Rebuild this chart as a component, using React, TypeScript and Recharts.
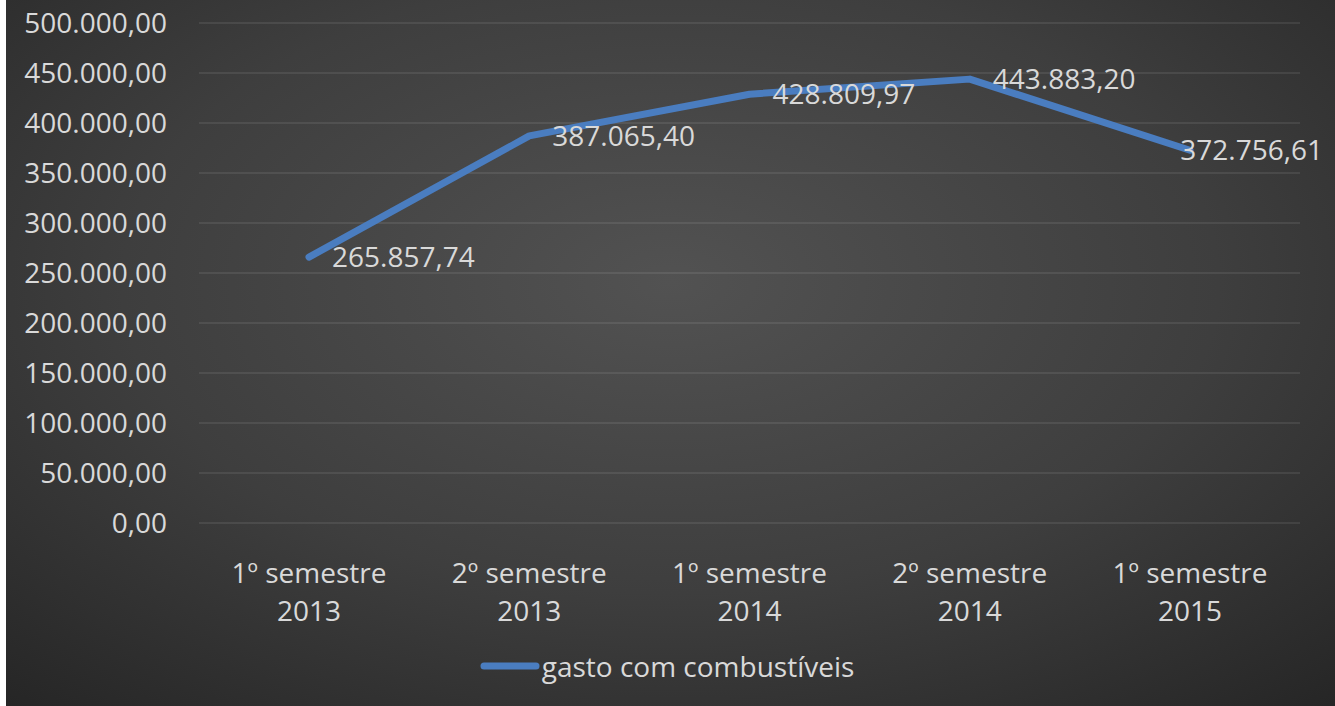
import { LineChart, Line, XAxis, YAxis, CartesianGrid, Legend, LabelList } from 'recharts'

// categories: period + year (two-line tick labels)
const periods = ['1º semestre', '2º semestre', '1º semestre', '2º semestre', '1º semestre']
const years = ['2013', '2013', '2014', '2014', '2015']
const gastos = [265857.74, 387065.4, 428809.97, 443883.2, 372756.61]
const yTicks = [0, 50000, 100000, 150000, 200000, 250000, 300000, 350000, 400000, 450000, 500000]
const seriesName = 'gasto com combustíveis'

const data = periods.map((p, i) => ({
  periodo: `${p} ${years[i]}`,
  gasto: gastos[i],
}))

const FONT = '"Open Sans", "Noto Sans", sans-serif'
const TEXT = '#d9d9d9'
const LINE = '#4a7dc0'
const FS = 28

// pt-BR number format: 443.883,20
const fmt = (v: number) =>
  v.toLocaleString('pt-BR', { minimumFractionDigits: 2, maximumFractionDigits: 2 })

const CategoryTick = (props: any) => {
  const { x, y, payload } = props
  const i = payload.index
  return (
    <text x={x} y={y} textAnchor="middle" fill={TEXT} fontSize={FS} fontFamily={FONT}>
      <tspan x={x} dy={52}>{periods[i]}</tspan>
      <tspan x={x} dy={38}>{years[i]}</tspan>
    </text>
  )
}

const ValueLabel = (props: any) => {
  const { x, y, value, index } = props
  // the last label is pushed back inside the plot, as in the original
  const last = index === gastos.length - 1
  return (
    <text
      x={last ? x + 133 : x + 23}
      y={y}
      dy="0.36em"
      textAnchor={last ? 'end' : 'start'}
      fill={TEXT}
      fontSize={FS}
      fontFamily={FONT}
    >
      {fmt(value)}
    </text>
  )
}

const LegendContent = () => (
  <div style={{ display: 'flex', justifyContent: 'center', alignItems: 'center', height: 73, paddingBottom: 8, paddingLeft: 28, boxSizing: 'border-box' }}>
    <svg width={60} height={10} style={{ marginRight: 2 }}>
      <line x1={4} y1={5} x2={56} y2={5} stroke={LINE} strokeWidth={7} strokeLinecap="round" />
    </svg>
    <span style={{ color: TEXT, fontSize: FS, fontFamily: FONT, lineHeight: '34px' }}>{seriesName}</span>
  </div>
)

export default function App() {
  return (
    <div
      style={{
        position: 'absolute',
        left: 6,
        top: 0,
        width: 1329,
        height: 706,
        background: 'radial-gradient(ellipse 75% 80% at 50% 40%, #525252 0%, #3e3e3e 55%, #262626 100%)',
      }}
    >
      <LineChart
        width={1329}
        height={706}
        data={data}
        margin={{ top: 23, right: 35, left: 0, bottom: 0 }}
      >
        <CartesianGrid vertical={false} stroke="rgba(255,255,255,0.11)" strokeWidth={1.5} />
        <XAxis
          dataKey="periodo"
          axisLine={false}
          tickLine={false}
          interval={0}
          height={110}
          padding={{ left: 110, right: 110 }}
          tick={<CategoryTick />}
        />
        <YAxis
          domain={[0, 500000]}
          ticks={yTicks}
          tickFormatter={fmt}
          axisLine={false}
          tickLine={false}
          tickSize={0}
          tickMargin={32}
          width={193}
          tick={{ fill: TEXT, fontSize: FS, fontFamily: FONT }}
        />
        <Legend verticalAlign="bottom" height={73} content={<LegendContent />} />
        <Line
          type="linear"
          dataKey="gasto"
          name={seriesName}
          stroke={LINE}
          strokeWidth={7}
          strokeLinecap="round"
          strokeLinejoin="round"
          dot={false}
          activeDot={false}
          isAnimationActive={false}
        >
          <LabelList dataKey="gasto" content={<ValueLabel />} />
        </Line>
      </LineChart>
    </div>
  )
}
